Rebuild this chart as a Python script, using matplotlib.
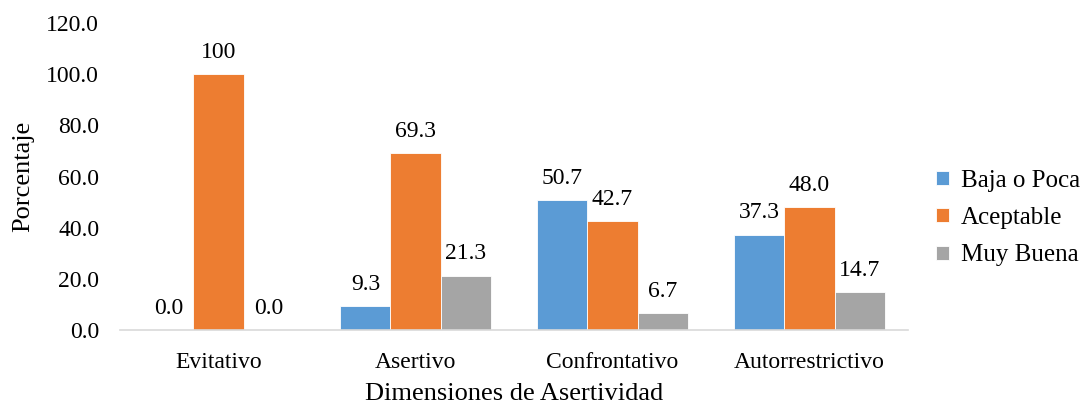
import matplotlib
matplotlib.use("Agg")
import matplotlib.pyplot as plt
import numpy as np

plt.rcParams['font.family'] = ['Liberation Serif', 'DejaVu Serif']

categories = ["Evitativo", "Asertivo", "Confrontativo", "Autorrestrictivo"]
series_names = ["Baja o Poca", "Aceptable", "Muy Buena"]
baja = [0.0, 9.3, 50.7, 37.3]
aceptable = [100.0, 69.3, 42.7, 48.0]
muy_buena = [0.0, 21.3, 6.7, 14.7]
y_ticks = [0, 20, 40, 60, 80, 100, 120]

colors = ["#5B9BD5", "#ED7D31", "#A5A5A5"]

fig = plt.figure(figsize=(10.84, 4.07), dpi=100)
ax = fig.add_axes([120 / 1084, 1 - 330 / 407, 788 / 1084, 307 / 407])

x = np.arange(len(categories))
width = 0.254
offsets = [-width, 0, width]

for vals, name, col, off in zip([baja, aceptable, muy_buena], series_names, colors, offsets):
    bars = ax.bar(x + off, vals, width, color=col, label=name,
                  edgecolor="white", linewidth=0.6)
    for b, v in zip(bars, vals):
        txt = f"{v:.0f}" if v >= 100 else f"{v:.1f}"
        ax.annotate(txt, (b.get_x() + b.get_width() / 2, v),
                    xytext=(0, 8), textcoords="offset points",
                    ha="center", va="bottom", fontsize=17, color="#000000")

ax.set_xlim(-0.5, len(categories) - 0.5)
ax.set_ylim(0, 120)
ax.set_yticks(y_ticks)
ax.set_yticklabels([f"{t:.1f}" for t in y_ticks])
ax.set_xticks(x)
ax.set_xticklabels(categories)
ax.tick_params(axis="both", length=0, labelsize=17)
ax.tick_params(axis="y", pad=15)
ax.tick_params(axis="x", pad=16)

for s in ["top", "right", "left"]:
    ax.spines[s].set_visible(False)
ax.spines["bottom"].set_color("#D9D9D9")
ax.spines["bottom"].set_linewidth(1.2)

ax.set_xlabel("Dimensiones de Asertividad", fontsize=19, labelpad=7)
ax.set_ylabel("Porcentaje", fontsize=19, labelpad=9)

ax.legend(loc="center left", bbox_to_anchor=(926 / 1084, 1 - 218 / 407),
          bbox_transform=fig.transFigure, frameon=False, fontsize=18,
          handlelength=0.5, handleheight=0.5, handletextpad=0.5,
          labelspacing=0.62, borderaxespad=0)

fig.savefig("out.png", dpi=100)
